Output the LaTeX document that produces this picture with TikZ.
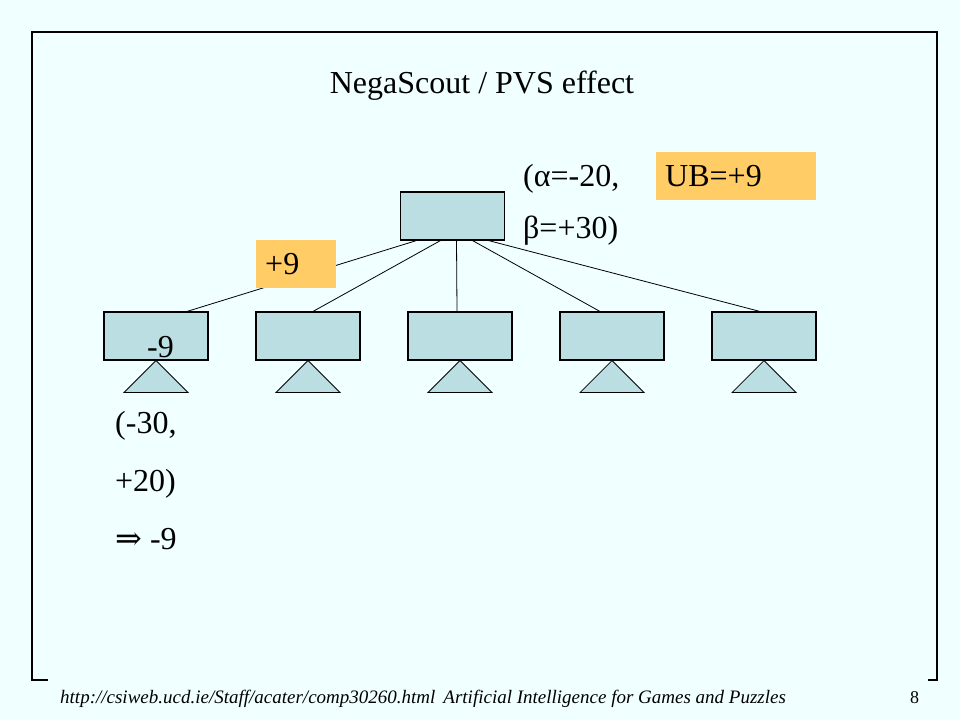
\documentclass[tikz,border=0pt]{standalone}
\usepackage{fontspec}
\setmainfont{Liberation Serif}
\newfontfamily\arrowfont{DejaVu Serif}
\usepackage{tikz}

\definecolor{slidebg}{RGB}{240,255,255}
\definecolor{boxblue}{RGB}{187,222,226}
\definecolor{hilite}{RGB}{255,204,102}

\begin{document}
\begin{tikzpicture}[x=1pt, y=-1pt]
        % Define styles for the boxes and texts
        \tikzset{
            node box/.style={draw, line width=1.1pt, fill=boxblue, minimum width=104pt, minimum height=48pt, inner sep=0pt},
            subtree/.style={draw, line width=0.8pt, fill=boxblue, line join=miter},
            value box/.style={fill=hilite, anchor=north west, minimum height=48pt, inner xsep=9pt, inner ysep=0pt, align=left},
            big text/.style={font=\fontsize{32}{38}\selectfont, inner sep=0pt, anchor=base west},
            edge/.style={line width=0.8pt, black}
        }

        % Slide background and frame
        \fill[slidebg] (0,0) rectangle (960,720);
        \draw[line width=1.3pt] (48,680) -- (32,680) -- (32,32) -- (937,32) -- (937,680) -- (928,680);

        % Title
        \node[big text, anchor=base] (title) at (482,93) {NegaScout / PVS effect};

        % Root and its five children
        \node[node box] (root) at (452.5,216) {};
        \foreach \i in {1,...,5} {
            \node[node box] (c\i) at (4+152*\i,336) {};
            \draw[subtree] (c\i.south) -- ++(-32,32) -- ++(64,0) -- cycle;
        }

        % Edges from the root to the children
        \foreach \i/\rs/\cs in {1/-36/31, 2/-12/5, 3/4/-3, 4/20/-12, 5/36/-4} {
            \draw[edge] ([xshift=\rs pt]root.south) -- ([xshift=\cs pt]c\i.north);
        }

        % Values found
        \node[value box, text width=62pt] (plus) at (256,240) {\fontsize{32}{38}\selectfont +9};
        \node[value box, text width=142pt] (ub) at (656,152) {\fontsize{32}{38}\selectfont UB=+9};
        \node[big text] (minus) at (147,357) {-9};

        % Windows
        \node[big text] (alpha) at (523,186) {(α=-20,};
        \node[big text] (beta) at (523,238) {β=+30)};
        \node[big text] (lo) at (115,433) {(-30,};
        \node[big text] (hi) at (115,491) {+20)};
        \node[big text] (res) at (115,549) {{\arrowfont ⇒} -9};

        % Footer
        \node[inner sep=0pt, anchor=base west, font=\fontsize{19}{22}\selectfont\itshape] (url) at (60,703)
            {http://csiweb.ucd.ie/Staff/acater/comp30260.html\hspace{8pt}Artificial Intelligence for Games and Puzzles};
        \node[inner sep=0pt, anchor=base west, font=\fontsize{18}{22}\selectfont] (page) at (910,703) {8};

    \end{tikzpicture}
\end{document}
